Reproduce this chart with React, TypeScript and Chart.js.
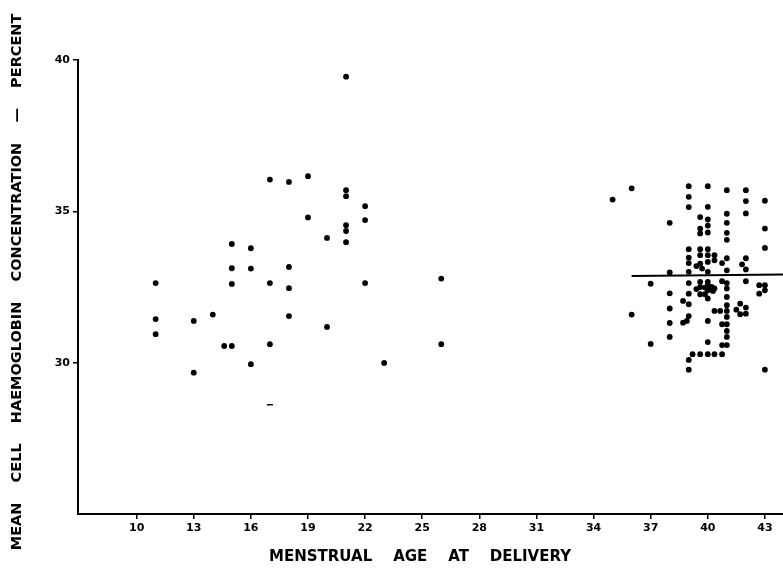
import React, { useEffect, useRef } from "react";
import { Chart, registerables } from "chart.js";

Chart.register(...registerables);

// Axis ticks
const X_TICKS = [10, 13, 16, 19, 22, 25, 28, 31, 34, 37, 40, 43];
const Y_TICKS = [30, 35, 40];

// Axis titles
const X_TITLE = "MENSTRUAL    AGE    AT    DELIVERY    ";
const Y_TITLE = "  MEAN    CELL    HAEMOGLOBIN    CONCENTRATION    —    PERCENT";

// Pre-term deliveries (menstrual age in weeks, MCHC %)
const earlyAge = [
  21, 17, 18, 19, 21, 21, 22, 19, 22, 21, 21, 20, 21, 15, 16, 15, 16, 18, 11,
  15, 17, 18, 22, 26, 11, 13, 14, 18, 20, 11, 14.6, 15, 17, 26, 16, 23, 13,
];
const earlyMchc = [
  39.45, 36.05, 35.97, 36.16, 35.7, 35.5, 35.17, 34.8, 34.71, 34.54, 34.35,
  34.12, 33.98, 33.92, 33.78, 33.12, 33.11, 33.16, 32.63, 32.6, 32.63, 32.46,
  32.63, 32.78, 31.44, 31.38, 31.59, 31.54, 31.18, 30.94, 30.55, 30.55, 30.61,
  30.61, 29.95, 29.99, 29.67,
];

// Single faint mark
const dashAge = [17];
const dashMchc = [28.61];

// Near-term deliveries
const termAge = [
  35,
  36, 36,
  37, 37,
  38, 38, 38, 38, 38, 38,
  38.7, 38.7,
  38.9,
  39, 39, 39, 39, 39, 39, 39, 39, 39, 39, 39, 39, 39,
  39.2,
  39.4, 39.4,
  39.6, 39.6, 39.6, 39.6, 39.6, 39.6, 39.6, 39.6, 39.6, 39.6,
  39.7,
  39.85, 39.85,
  40, 40, 40, 40, 40, 40, 40, 40, 40, 40, 40, 40, 40, 40, 40, 40,
  40.2,
  40.27,
  40.35, 40.35, 40.35, 40.35, 40.35,
  40.65,
  40.75, 40.75, 40.75, 40.75, 40.75,
  41, 41, 41, 41, 41, 41, 41, 41, 41, 41, 41, 41, 41, 41, 41, 41, 41,
  41.5,
  41.7, 41.7,
  41.8,
  42, 42, 42, 42, 42, 42, 42, 42,
  42.7, 42.7,
  43, 43, 43, 43, 43, 43,
];
const termMchc = [
  35.39,
  35.76, 31.59,
  32.61, 30.62,
  34.62, 32.98, 32.29, 31.79, 31.31, 30.85,
  32.04, 31.32,
  31.38,
  35.83, 35.48, 35.14, 33.75, 33.47, 33.29, 33.0, 32.63, 32.28, 31.93, 31.54, 30.09, 29.77,
  30.28,
  33.19, 32.43,
  34.81, 34.43, 34.27, 33.75, 33.55, 33.27, 32.67, 32.5, 32.26, 30.28,
  33.11,
  32.48, 32.26,
  35.83, 35.15, 34.73, 34.53, 34.3, 33.75, 33.55, 33.33, 33.0, 32.67, 32.56, 32.39, 32.12, 31.38, 30.68, 30.28,
  32.5,
  32.37,
  33.55, 33.38, 32.45, 31.71, 30.28,
  31.71,
  33.29, 32.69, 31.27, 30.58, 30.28,
  35.7, 34.92, 34.62, 34.29, 34.06, 33.45, 33.05, 32.63, 32.45, 32.17, 31.9, 31.71, 31.51, 31.27, 31.05, 30.85, 30.58,
  31.75,
  31.95, 31.6,
  33.25,
  35.7, 35.34, 34.93, 33.45, 33.08, 32.69, 31.82, 31.62,
  32.56, 32.28,
  35.35, 34.43, 33.79, 32.56, 32.39, 29.77,
];

// Horizontal mean line for term group
const meanLineAge = [36, 44];
const meanLineMchc = [32.86, 32.91];

const FONT = "'DejaVu Sans', sans-serif";

const toPoints = (xs: number[], ys: number[]) =>
  xs.map((x, i) => ({ x, y: ys[i] }));

export default function App() {
  const canvasRef = useRef<HTMLCanvasElement | null>(null);

  useEffect(() => {
    if (!canvasRef.current) return;
    const chart = new Chart(canvasRef.current, {
      type: "scatter",
      data: {
        datasets: [
          {
            data: toPoints(earlyAge, earlyMchc),
            backgroundColor: "#000",
            borderWidth: 0,
            pointRadius: 2.9,
          },
          {
            data: toPoints(termAge, termMchc),
            backgroundColor: "#000",
            borderWidth: 0,
            pointRadius: 2.9,
          },
          {
            data: toPoints(dashAge, dashMchc),
            pointStyle: "line",
            borderColor: "#000",
            borderWidth: 1.5,
            pointRadius: 3,
          },
          {
            type: "line",
            data: toPoints(meanLineAge, meanLineMchc),
            borderColor: "#000",
            borderWidth: 2,
            pointRadius: 0,
            showLine: true,
            fill: false,
          } as any,
        ],
      },
      options: {
        responsive: false,
        animation: false,
        layout: {
          autoPadding: false,
          padding: { top: 60, right: 0, bottom: 0, left: 0 },
        },
        plugins: {
          legend: { display: false },
          tooltip: { enabled: false },
        },
        scales: {
          x: {
            type: "linear",
            min: 6.92,
            max: 43.95,
            afterBuildTicks: (s: any) => {
              s.ticks = X_TICKS.map((v) => ({ value: v }));
            },
            afterFit: (s: any) => {
              s.height = 55;
              s.paddingLeft = 0;
              s.paddingRight = 0;
            },
            ticks: {
              autoSkip: false,
              maxRotation: 0,
              color: "#000",
              padding: 3,
              font: { family: FONT, size: 11, weight: "bold" },
            },
            grid: {
              drawOnChartArea: false,
              drawTicks: true,
              tickLength: 5,
              color: "#000",
              lineWidth: 1.5,
            },
            border: { display: true, color: "#000", width: 2 },
            title: {
              display: true,
              text: X_TITLE,
              color: "#000",
              font: { family: FONT, size: 15, weight: "bold" },
              padding: { top: 0, bottom: 3 },
            },
          },
          y: {
            type: "linear",
            min: 25,
            max: 40,
            afterBuildTicks: (s: any) => {
              s.ticks = Y_TICKS.map((v) => ({ value: v }));
            },
            afterFit: (s: any) => {
              s.width = 78;
            },
            ticks: {
              color: "#000",
              padding: 3,
              font: { family: FONT, size: 11, weight: "bold" },
            },
            grid: {
              drawOnChartArea: false,
              drawTicks: true,
              tickLength: 5,
              color: "#000",
              lineWidth: 1.5,
            },
            border: { display: true, color: "#000", width: 2 },
            title: {
              display: true,
              text: Y_TITLE,
              color: "#000",
              font: { family: FONT, size: 14.5, weight: "bold" },
              padding: { top: 9, bottom: 0 },
            },
          },
        },
      },
    });
    return () => chart.destroy();
  }, []);

  return (
    <div
      style={{
        position: "fixed",
        left: 0,
        top: 0,
        width: 783,
        height: 569,
        background: "#fff",
      }}
    >
      <canvas
        ref={canvasRef}
        width={783}
        height={569}
        style={{ display: "block", width: 783, height: 569 }}
      />
    </div>
  );
}
